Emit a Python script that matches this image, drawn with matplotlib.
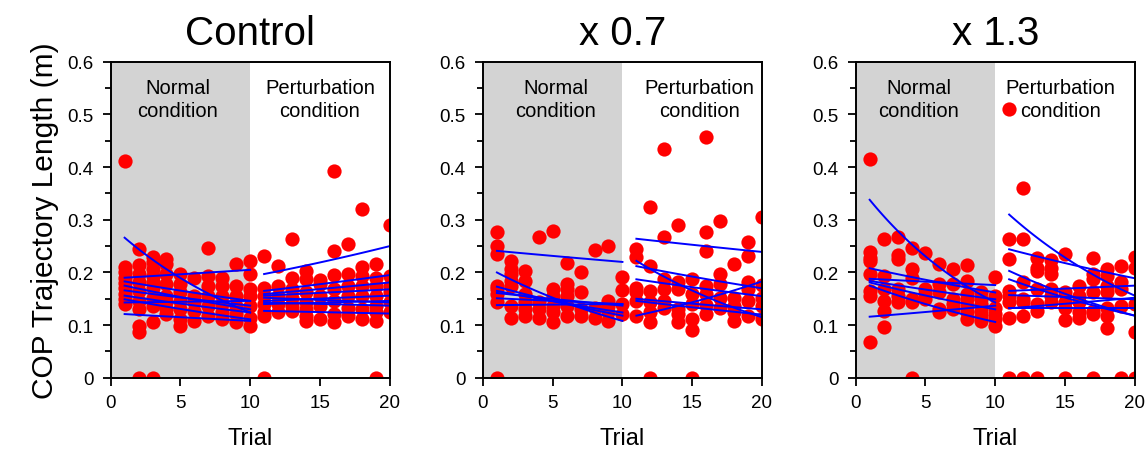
import numpy as np
import matplotlib
matplotlib.use("Agg")
import matplotlib.pyplot as plt

plt.rcParams['font.family'] = ['Liberation Sans', 'DejaVu Sans']

trials = list(range(1, 21))

# COP trajectory length per trial (visible points), trials 1..20
control_vals = [
    [0.412, 0.21, 0.20, 0.19, 0.18, 0.17, 0.16, 0.15, 0.14],
    [0.245, 0.214, 0.197, 0.181, 0.165, 0.146, 0.13, 0.099, 0.087, 0.0],
    [0.23, 0.219, 0.206, 0.194, 0.181, 0.17, 0.152, 0.137, 0.105, 0.0],
    [0.226, 0.216, 0.197, 0.178, 0.156, 0.143, 0.13, 0.121],
    [0.197, 0.178, 0.162, 0.146, 0.13, 0.111, 0.099],
    [0.19, 0.156, 0.143, 0.127, 0.108],
    [0.246, 0.194, 0.175, 0.156, 0.137, 0.118],
    [0.19, 0.175, 0.156, 0.14, 0.124, 0.111],
    [0.216, 0.175, 0.156, 0.137, 0.121, 0.105],
    [0.222, 0.197, 0.168, 0.156, 0.137, 0.114, 0.099],
    [0.231, 0.171, 0.156, 0.14, 0.124, 0.118, 0.0],
    [0.2125, 0.175, 0.156, 0.14, 0.124],
    [0.263, 0.189, 0.168, 0.152, 0.137, 0.127],
    [0.203, 0.187, 0.162, 0.143, 0.13, 0.118, 0.108],
    [0.186, 0.178, 0.156, 0.137, 0.111],
    [0.393, 0.24, 0.195, 0.168, 0.146, 0.121, 0.105],
    [0.254, 0.197, 0.175, 0.156, 0.133, 0.118],
    [0.32, 0.211, 0.194, 0.175, 0.156, 0.13, 0.111],
    [0.216, 0.19, 0.175, 0.156, 0.137, 0.124, 0.108, 0.0],
    [0.29, 0.194, 0.175, 0.162, 0.143, 0.124],
]

x07_vals = [
    [0.277, 0.25, 0.235, 0.175, 0.168, 0.159, 0.143, 0.0],
    [0.222, 0.206, 0.197, 0.184, 0.175, 0.137, 0.114],
    [0.203, 0.184, 0.159, 0.143, 0.13, 0.118],
    [0.268, 0.143, 0.13, 0.113],
    [0.279, 0.168, 0.156, 0.137, 0.124, 0.105],
    [0.218, 0.178, 0.168, 0.156, 0.137, 0.118],
    [0.20, 0.162, 0.13, 0.118],
    [0.243, 0.133, 0.114],
    [0.25, 0.146, 0.137, 0.124, 0.108],
    [0.192, 0.167, 0.14, 0.121],
    [0.245, 0.23, 0.171, 0.162, 0.146, 0.118],
    [0.325, 0.212, 0.165, 0.144, 0.124, 0.105, 0.0],
    [0.434, 0.268, 0.187, 0.168, 0.146, 0.133],
    [0.29, 0.181, 0.168, 0.13, 0.121, 0.105],
    [0.187, 0.159, 0.14, 0.111, 0.091, 0.0],
    [0.457, 0.276, 0.241, 0.175, 0.159, 0.138, 0.121],
    [0.297, 0.197, 0.178, 0.152, 0.133],
    [0.217, 0.152, 0.137, 0.124, 0.108],
    [0.258, 0.232, 0.181, 0.168, 0.146, 0.118],
    [0.306, 0.176, 0.152, 0.137, 0.111],
]

x13_vals = [
    [0.416, 0.238, 0.228, 0.222, 0.197, 0.165, 0.156, 0.068],
    [0.264, 0.194, 0.168, 0.146, 0.127, 0.097],
    [0.268, 0.233, 0.225, 0.168, 0.156, 0.144],
    [0.247, 0.206, 0.19, 0.149, 0.143, 0.0],
    [0.237, 0.168, 0.159, 0.149],
    [0.216, 0.178, 0.162, 0.13, 0.124],
    [0.207, 0.178, 0.149, 0.14, 0.13],
    [0.214, 0.184, 0.159, 0.149, 0.137, 0.124, 0.111],
    [0.163, 0.149, 0.14, 0.127, 0.118, 0.108],
    [0.192, 0.156, 0.133, 0.121, 0.111, 0.099],
    [0.51, 0.263, 0.225, 0.165, 0.156, 0.143, 0.113, 0.0],
    [0.361, 0.264, 0.181, 0.149, 0.143, 0.118, 0.0],
    [0.228, 0.209, 0.203, 0.168, 0.14, 0.127, 0.0],
    [0.223, 0.209, 0.197, 0.168, 0.156, 0.143],
    [0.235, 0.162, 0.143, 0.133, 0.11, 0.0],
    [0.175, 0.156, 0.143, 0.124, 0.114],
    [0.227, 0.197, 0.187, 0.162, 0.127, 0.121, 0.0],
    [0.207, 0.194, 0.175, 0.162, 0.133, 0.118, 0.094],
    [0.213, 0.181, 0.168, 0.137, 0.0],
    [0.23, 0.209, 0.14, 0.087, 0.0],
]

# exponential fits per subject: value at first and last trial of each block
control_norm_start = [0.266, 0.19, 0.183, 0.175, 0.166, 0.156, 0.149, 0.143, 0.121]
control_norm_end = [0.124, 0.205, 0.146, 0.13, 0.137, 0.124, 0.111, 0.146, 0.108]
control_pert_start = [0.197, 0.165, 0.159, 0.156, 0.152, 0.146, 0.143, 0.14, 0.127]
control_pert_end = [0.25, 0.195, 0.181, 0.168, 0.143, 0.156, 0.137, 0.146, 0.122]

x07_norm_start = [0.241, 0.20, 0.173, 0.165, 0.161, 0.151, 0.138]
x07_norm_end = [0.22, 0.108, 0.118, 0.124, 0.137, 0.14, 0.14]
x07_pert_start = [0.264, 0.222, 0.212, 0.187, 0.15, 0.146, 0.118]
x07_pert_end = [0.239, 0.115, 0.17, 0.155, 0.13, 0.12, 0.183]

x13_norm_start = [0.338, 0.208, 0.188, 0.184, 0.181, 0.175, 0.116]
x13_norm_end = [0.143, 0.162, 0.176, 0.149, 0.13, 0.106, 0.137]
x13_pert_start = [0.31, 0.244, 0.203, 0.187, 0.165, 0.157, 0.132, 0.133]
x13_pert_end = [0.156, 0.189, 0.118, 0.118, 0.175, 0.149, 0.152, 0.133]

titles = ["Control", "x 0.7", "x 1.3"]


def draw_fits(ax, starts, ends, t0):
    t = np.linspace(t0, t0 + 9, 50)
    for s, e in zip(starts, ends):
        ax.plot(t, s * (e / s) ** ((t - t0) / 9.0), color='#0000ff', lw=1.4, zorder=4)


def draw_panel(ax, vals, norm, pert, title, text_x):
    ax.axvspan(0, 10, color='#d3d3d3', lw=0, zorder=0)
    for t, v in zip(trials, vals):
        ax.scatter([t] * len(v), v, s=105, color='#ff0000', lw=0, zorder=3)
    draw_fits(ax, norm[0], norm[1], 1)
    draw_fits(ax, pert[0], pert[1], 11)
    ax.set_xlim(0, 20)
    ax.set_ylim(0, 0.6)
    ax.set_xticks([0, 5, 10, 15, 20])
    ax.set_yticks([0, 0.1, 0.2, 0.3, 0.4, 0.5, 0.6])
    ax.set_yticklabels(['0', '0.1', '0.2', '0.3', '0.4', '0.5', '0.6'])
    ax.set_yticks(np.arange(0.05, 0.6, 0.1), minor=True)
    ax.tick_params(which='major', length=6, width=1.3, labelsize=13.5, direction='out')
    ax.tick_params(which='minor', length=4, width=1.3, direction='out')
    ax.tick_params(axis='x', pad=6)
    ax.tick_params(axis='y', pad=6.5)
    for sp in ax.spines.values():
        sp.set_linewidth(1.4)
        sp.set_zorder(5)
    ax.set_xlabel('Trial', fontsize=17, labelpad=11)
    ax.set_title(title, fontsize=29, pad=13)
    ax.text(text_x[0], 0.53, 'Normal\ncondition', ha='center', va='center',
            fontsize=14.5, linespacing=1.25)
    ax.text(text_x[1], 0.53, 'Perturbation\ncondition', ha='center', va='center',
            fontsize=14.5, linespacing=1.25)


fig = plt.figure(figsize=(11.48, 4.52), dpi=100)
lefts = [0.0964, 0.4207, 0.7454]
axes = [fig.add_axes([l, 0.162, 0.243, 0.699]) for l in lefts]

draw_panel(axes[0], control_vals, (control_norm_start, control_norm_end),
           (control_pert_start, control_pert_end), titles[0], (4.8, 15.0))
draw_panel(axes[1], x07_vals, (x07_norm_start, x07_norm_end),
           (x07_pert_start, x07_pert_end), titles[1], (5.2, 15.5))
draw_panel(axes[2], x13_vals, (x13_norm_start, x13_norm_end),
           (x13_pert_start, x13_pert_end), titles[2], (4.5, 14.7))

axes[0].set_ylabel('COP Trajectory Length (m)', fontsize=21.5, labelpad=6)

fig.savefig('out.png', dpi=100)
